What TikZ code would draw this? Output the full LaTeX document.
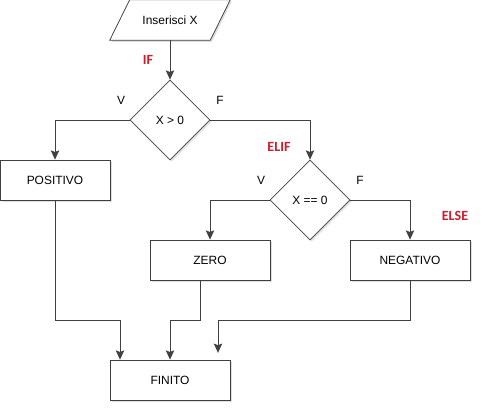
\documentclass[tikz,border=0pt]{standalone}
\usepackage{fontspec}
\setmainfont{Liberation Sans}
\newfontfamily\labfont{Carlito}
\usepackage{tikz}
\usetikzlibrary{shapes.geometric, arrows.meta, positioning, calc, shadows}
\definecolor{labred}{RGB}{200,30,45}
\tikzset{
  flow/.style={draw=black!75, fill=white, line width=0.55pt, font=\fontsize{8.5}{10}\selectfont,
    drop shadow={shadow xshift=0.4mm, shadow yshift=-0.4mm, opacity=0.25}},
  procbox/.style={flow, rectangle, minimum width=3cm, minimum height=1cm},
  iotext/.style={rectangle, minimum width=3cm, minimum height=1cm, font=\fontsize{8.5}{10}\selectfont},
  testbox/.style={flow, diamond, minimum size=2cm, inner sep=0pt},
  arr/.style={draw=black!75, line width=0.55pt, -{Stealth[length=2.3mm, width=2.1mm, inset=0.4mm]}},
  vf/.style={font=\fontsize{8.5}{10}\selectfont},
  kw/.style={text=labred, font=\labfont\bfseries\fontsize{10}{12}\selectfont}
}

\begin{document}
\begin{tikzpicture}[x=0.025cm, y=-0.025cm]
\useasboundingbox (0,0) rectangle (482,412);

\node [iotext] (inp) at (170,20) {};
\draw [flow] ([xshift=0.5cm]inp.north west) -- (inp.north east)
  -- ([xshift=-0.5cm]inp.south east) -- (inp.south west) -- cycle;
\node [iotext] at (inp) {Inserisci X};
\node [testbox] (d1) at (170,120) {X > 0};
\node [procbox, minimum width=2.75cm] (pos) at (55,180) {POSITIVO};
\node [testbox] (d2) at (310,200) {X == 0};
\node [procbox] (zero) at (210,260) {ZERO};
\node [procbox] (neg) at (410,260) {NEGATIVO};
\node [procbox] (fin) at (170,380) {FINITO};

% points where the branches meet again
\coordinate (m1) at (120,320);
\coordinate (m2) at (170,320);
\coordinate (m3) at (218,320);

\node [kw] (kif) at (148,60) {IF};
\node [kw] (kelif) at (279,147) {ELIF};
\node [kw] (kelse) at (455,216) {ELSE};
\node [vf] (v1) at (121,100) {V}; \node [vf] (f1) at (220,100) {F};
\node [vf] (v2) at (261,180) {V}; \node [vf] (f2) at (360,180) {F};

\draw [arr] (inp) -- (d1);
\draw [arr] (d1.west) -| (pos);
\draw [arr] (d1.east) -| (d2);
\draw [arr] (d2.west) -| (zero);
\draw [arr] (d2.east) -| (neg);

\draw [arr] (pos) |- (m1) -- (m1 |- fin.north);
\draw [arr] ([xshift=-0.25cm]zero.south) |- (m2) -- (m2 |- fin.north);
\draw [arr, shorten >=0.17cm] (neg) |- (m3) -- (m3 |- fin.north);
\end{tikzpicture}
\end{document}
